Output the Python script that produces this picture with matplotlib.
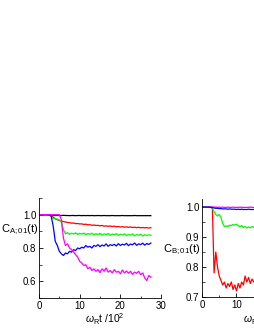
import matplotlib
matplotlib.use('Agg')
import matplotlib.pyplot as plt
import numpy as np
from matplotlib.ticker import MultipleLocator

plt.rcParams['font.family'] = ['Liberation Sans', 'DejaVu Sans']
plt.rcParams['mathtext.fontset'] = 'custom'
plt.rcParams['mathtext.rm'] = 'Liberation Sans'
plt.rcParams['mathtext.it'] = 'Liberation Sans:italic'

# time grid (units of 10^2 / omega_R)
t_a = np.arange(0, 28.0, 0.5)
t_b = np.arange(0, 16.0, 0.5)

# panel A: C_A;01(t)
a_black = [1.0, 1.0, 1.0, 0.999, 0.998, 0.997, 0.996, 0.996, 0.995, 0.996, 0.995, 0.995,
           0.996, 0.995, 0.995, 0.994, 0.995, 0.995, 0.994, 0.995, 0.995, 0.994, 0.995, 0.994,
           0.995, 0.994, 0.995, 0.994, 0.994, 0.995, 0.994, 0.994, 0.995, 0.994, 0.994, 0.994,
           0.995, 0.994, 0.994, 0.994, 0.994, 0.995, 0.994, 0.994, 0.994, 0.994, 0.994, 0.995,
           0.994, 0.994, 0.994, 0.994, 0.994, 0.994, 0.994, 0.994]
a_red = [1.0, 1.0, 1.0, 1.0, 1.0, 1.0,
         0.995, 0.985, 0.975, 0.970, 0.965, 0.962, 0.958, 0.956, 0.953, 0.952, 0.949, 0.950,
         0.946, 0.947, 0.944, 0.945, 0.941, 0.943, 0.939, 0.940, 0.936, 0.938, 0.935, 0.936,
         0.933, 0.935, 0.931, 0.933, 0.930, 0.932, 0.929, 0.931, 0.927, 0.929, 0.926, 0.928,
         0.925, 0.927, 0.924, 0.926, 0.923, 0.925, 0.922, 0.924, 0.921, 0.923, 0.921, 0.922,
         0.920, 0.922]
a_green = [1.0, 1.0, 1.0, 1.0, 1.0, 1.0,
           0.990, 0.975, 0.978, 0.972, 0.970, 0.955, 0.910, 0.885, 0.892, 0.882, 0.889, 0.884,
           0.891, 0.881, 0.888, 0.883, 0.890, 0.879, 0.887, 0.882, 0.889, 0.878, 0.886, 0.880,
           0.888, 0.877, 0.885, 0.880, 0.887, 0.876, 0.884, 0.879, 0.886, 0.875, 0.883, 0.878,
           0.885, 0.874, 0.882, 0.877, 0.884, 0.873, 0.881, 0.876, 0.883, 0.872, 0.880, 0.875,
           0.879, 0.876]
a_blue = [1.0, 1.0, 1.0, 1.0, 1.0, 1.0,
          0.990, 0.930, 0.840, 0.815, 0.780, 0.765, 0.755, 0.770, 0.765, 0.780, 0.775, 0.790,
          0.785, 0.800, 0.795, 0.805, 0.800, 0.815, 0.805, 0.810, 0.800, 0.815, 0.810, 0.820,
          0.808, 0.818, 0.812, 0.825, 0.810, 0.820, 0.815, 0.822, 0.812, 0.826, 0.815, 0.823,
          0.818, 0.828, 0.814, 0.824, 0.819, 0.830, 0.816, 0.825, 0.820, 0.829, 0.817, 0.827,
          0.821, 0.830]
a_magenta = [1.0, 1.0, 1.0, 1.0, 1.0, 1.0, 1.0, 1.0, 1.0, 1.0, 1.0,
             0.970, 0.860, 0.815, 0.825, 0.800, 0.790, 0.775, 0.760, 0.745, 0.720, 0.710,
             0.695, 0.700, 0.675, 0.685, 0.665, 0.675, 0.660, 0.670, 0.652, 0.675, 0.660,
             0.680, 0.655, 0.665, 0.650, 0.670, 0.655, 0.660, 0.645, 0.668, 0.650, 0.662,
             0.648, 0.660, 0.642, 0.655, 0.648, 0.660, 0.640, 0.650, 0.620, 0.605, 0.635,
             0.625]

# panel B: C_B;01(t)
b_red = [1.0, 1.0, 1.0, 1.0, 1.0, 1.0, 1.0,
         0.780, 0.850, 0.800, 0.770, 0.755, 0.740, 0.750, 0.730, 0.745, 0.735, 0.750, 0.725,
         0.740, 0.720, 0.745, 0.730, 0.750, 0.740, 0.770, 0.750, 0.765, 0.745, 0.760, 0.750,
         0.755]
b_green = [1.0, 1.0, 1.0, 1.0, 1.0, 1.0,
           0.995, 0.985, 0.975, 0.970, 0.975, 0.965, 0.945, 0.935, 0.937, 0.935, 0.940, 0.938,
           0.942, 0.940, 0.943, 0.937, 0.935, 0.938, 0.932, 0.935, 0.930, 0.934, 0.931, 0.935,
           0.932, 0.934]
b_blue = [1.0, 1.0, 1.0, 1.0, 1.0, 0.999, 0.998, 0.997, 0.996, 0.996, 0.995, 0.995, 0.994,
          0.994, 0.994, 0.993, 0.994, 0.993, 0.993, 0.993, 0.992, 0.993, 0.992, 0.993, 0.992,
          0.992, 0.992, 0.993, 0.992, 0.992, 0.992, 0.992]
b_magenta = [1.0, 1.0, 1.0, 1.0, 1.0, 1.0, 1.0, 1.0, 1.0, 0.999, 1.0, 0.999, 1.0, 0.999,
             0.999, 1.0, 0.999, 0.999, 1.0, 0.999, 0.999, 0.999, 1.0, 0.999, 0.999, 0.999,
             0.999, 0.999, 1.0, 0.999, 0.999, 0.999]

fig = plt.figure(figsize=(2.55, 3.3), dpi=100)

def style(ax):
    ax.tick_params(which='both', direction='in', labelsize=7, pad=2)
    ax.tick_params(which='major', length=3, width=0.6)
    ax.tick_params(which='minor', length=1.8, width=0.5)
    for s in ['top', 'right']:
        ax.spines[s].set_visible(False)
    for s in ['left', 'bottom']:
        ax.spines[s].set_linewidth(0.6)

ax1 = fig.add_axes([39/255, 32/330, 122/255, 100/330])
ax1.plot(t_a, a_black, color='black', lw=0.9)
ax1.plot(t_a, a_red, color='#ff0000', lw=0.9)
ax1.plot(t_a, a_green, color='#00ff00', lw=0.9)
ax1.plot(t_a, a_blue, color='#0000ff', lw=0.9)
ax1.plot(t_a, a_magenta, color='#ff00ff', lw=0.9)
ax1.set_xlim(0, 30)
ax1.set_ylim(0.5, 1.1)
ax1.xaxis.set_major_locator(MultipleLocator(10))
ax1.xaxis.set_minor_locator(MultipleLocator(5))
ax1.yaxis.set_major_locator(MultipleLocator(0.2))
ax1.yaxis.set_minor_locator(MultipleLocator(0.1))
ax1.set_yticks([0.6, 0.8, 1.0])
ax1.set_yticklabels(['0.6', '0.8', '1.0'])
style(ax1)

ax2 = fig.add_axes([202/255, 33/330, 103.5/255, 98/330])
ax2.plot(t_b, b_red, color='#ff0000', lw=0.9)
ax2.plot(t_b, b_green, color='#00ff00', lw=0.9)
ax2.plot(t_b, b_magenta, color='#ff00ff', lw=0.9)
ax2.plot(t_b, b_blue, color='#0000ff', lw=0.9)
ax2.set_xlim(0, 30)
ax2.set_ylim(0.7, 1.027)
ax2.xaxis.set_major_locator(MultipleLocator(10))
ax2.xaxis.set_minor_locator(MultipleLocator(5))
ax2.yaxis.set_major_locator(MultipleLocator(0.1))
ax2.yaxis.set_minor_locator(MultipleLocator(0.05))
style(ax2)

fig.text(1/255, 1 - 230/330, r'C$_{\mathrm{A;01}}$(t)', fontsize=8, va='center', ha='left')
fig.text(163/255, 1 - 250/330, r'C$_{\mathrm{B;01}}$(t)', fontsize=8, va='center', ha='left')
fig.text(105/255, 1 - 319/330, r'$\omega_{\mathrm{R}}$t /10$^{\mathrm{2}}$', fontsize=7.5, va='center', ha='center')
fig.text(243/255, 1 - 319/330, r'$\omega_{\mathrm{R}}$t /10$^{\mathrm{2}}$', fontsize=7.5, va='center', ha='left')

fig.savefig('out.png', dpi=100)
